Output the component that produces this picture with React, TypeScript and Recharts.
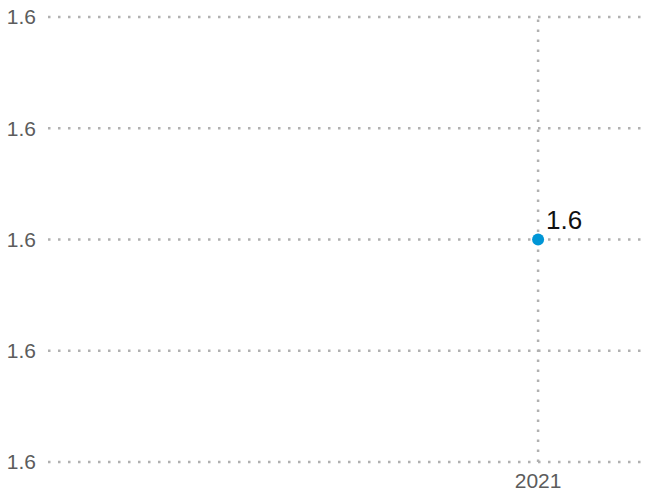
import { CartesianGrid, LabelList, Line, LineChart, ReferenceLine, XAxis, YAxis } from "recharts";

const years = [2021];
const values = [1.6];
const yTicks = [1.55, 1.575, 1.6, 1.625, 1.65];
const xTicks = [2021];

const data = years.map((year, i) => ({ year, value: values[i] }));

const gridStroke = "#b0b0b0";

function PointLabel(props: any) {
  const { x, y, value } = props;
  return (
    <text x={x + 8} y={y - 11} fontSize={26} fill="#111" textAnchor="start">
      {Number(value).toFixed(1)}
    </text>
  );
}

export default function App() {
  return (
    <div style={{ position: "absolute", left: 0, top: 0, fontFamily: "'Liberation Sans', Arial, sans-serif" }}>
      <LineChart width={647} height={492} data={data} margin={{ top: 17, right: 0, bottom: 0, left: 0 }}>
        <CartesianGrid vertical={false} stroke={gridStroke} strokeWidth={2.5} strokeDasharray="2.5 7.5" />
        {xTicks.map((t) => (
          <ReferenceLine key={t} x={t} stroke={gridStroke} strokeWidth={2.5} strokeDasharray="2.5 7.5" />
        ))}
        <XAxis
          dataKey="year"
          type="number"
          domain={[2012, 2023]}
          ticks={xTicks}
          axisLine={false}
          tickLine={false}
          tickMargin={5}
          height={30}
          tick={{ fill: "#5c5c5c", fontSize: 21 }}
        />
        <YAxis
          type="number"
          domain={[1.55, 1.65]}
          ticks={yTicks}
          width={48}
          axisLine={false}
          tickLine={false}
          tickMargin={6}
          tickFormatter={(v: number) => v.toFixed(1)}
          tick={{ fill: "#5c5c5c", fontSize: 21 }}
        />
        <Line
          dataKey="value"
          stroke="#0096d6"
          isAnimationActive={false}
          dot={{ r: 6, fill: "#0096d6", stroke: "none" }}
        >
          <LabelList dataKey="value" content={PointLabel} />
        </Line>
      </LineChart>
    </div>
  );
}
